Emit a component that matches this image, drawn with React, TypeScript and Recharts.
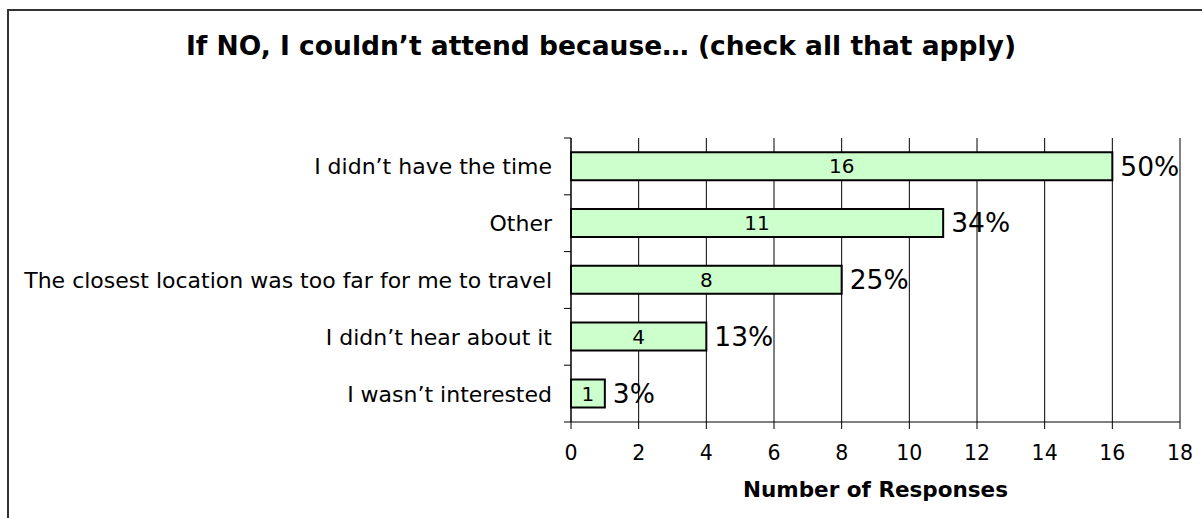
import React from 'react';
import { BarChart, Bar, XAxis, YAxis, CartesianGrid, LabelList } from 'recharts';

const categories = [
  'I didn\u2019t have the time',
  'Other',
  'The closest location was too far for me to travel',
  'I didn\u2019t hear about it',
  'I wasn\u2019t interested',
];
const responses = [16, 11, 8, 4, 1];
const percentLabels = ['50%', '34%', '25%', '13%', '3%'];
const xTicks = [0, 2, 4, 6, 8, 10, 12, 14, 16, 18];

const data = categories.map((c, i) => ({ name: c, value: responses[i], pct: percentLabels[i] }));

const FONT = '"DejaVu Sans", Verdana, sans-serif';

const CategoryTick = (props: any) => {
  const { x, y, payload, index } = props;
  const off = payload && typeof payload.offset === 'number' ? payload.offset : 28;
  const axisX = x + 19;
  return (
    <g>
      <text x={x} y={y} dy={8} textAnchor="end" fontSize={22} fontFamily={FONT} fill="#000">
        {payload.value}
      </text>
      <line x1={axisX - 7} x2={axisX} y1={y - off} y2={y - off} stroke="#000" strokeWidth={1} />
      {index === categories.length - 1 ? (
        <line x1={axisX - 7} x2={axisX} y1={y + off} y2={y + off} stroke="#000" strokeWidth={1} />
      ) : null}
    </g>
  );
};

export default function App() {
  return (
    <div style={{ position: 'fixed', left: 0, top: 0, width: 1202, height: 518, overflow: 'hidden', background: '#fff' }}>
      <div style={{ position: 'absolute', left: 7, top: 9, width: 1260, height: 620, border: '2px solid #333', boxSizing: 'border-box' }} />
      <div style={{ position: 'absolute', left: 0, top: 0 }}>
        <BarChart
          width={1202}
          height={518}
          data={data}
          layout="vertical"
          barCategoryGap="25%"
          margin={{ top: 138, right: 22, bottom: 56, left: 0 }}
        >
          <text x={601} y={55} textAnchor="middle" fontSize={26.5} fontWeight="bold" fontFamily={FONT} fill="#000">
            If NO, I couldn’t attend because… (check all that apply)
          </text>
          <CartesianGrid horizontal={false} vertical={true} stroke="#000" strokeWidth={1} />
          <XAxis
            type="number"
            dataKey="value"
            domain={[0, 18]}
            ticks={xTicks}
            interval={0}
            axisLine={{ stroke: '#000', strokeWidth: 1 }}
            tickLine={{ stroke: '#000' }}
            tickSize={7}
            tickMargin={16}
            height={40}
            tick={{ fontSize: 20.5, fontFamily: FONT, fill: '#000' }}
            label={{ value: 'Number of Responses', position: 'insideBottom', offset: -35, fontSize: 21.5, fontWeight: 'bold', fontFamily: FONT, fill: '#000' }}
          />
          <YAxis
            type="category"
            dataKey="name"
            width={571}
            axisLine={{ stroke: '#000', strokeWidth: 1 }}
            tickLine={false}
            tickSize={7}
            tickMargin={12}
            interval={0}
            tick={<CategoryTick />}
          />
          <Bar dataKey="value" fill="#CCFFCC" stroke="#000" strokeWidth={2} isAnimationActive={false}>
            <LabelList dataKey="value" position="center" fontSize={20} fontFamily={FONT} fill="#000" />
            <LabelList dataKey="pct" position="right" offset={8} fontSize={26.5} fontFamily={FONT} fill="#000" />
          </Bar>
        </BarChart>
      </div>
    </div>
  );
}
